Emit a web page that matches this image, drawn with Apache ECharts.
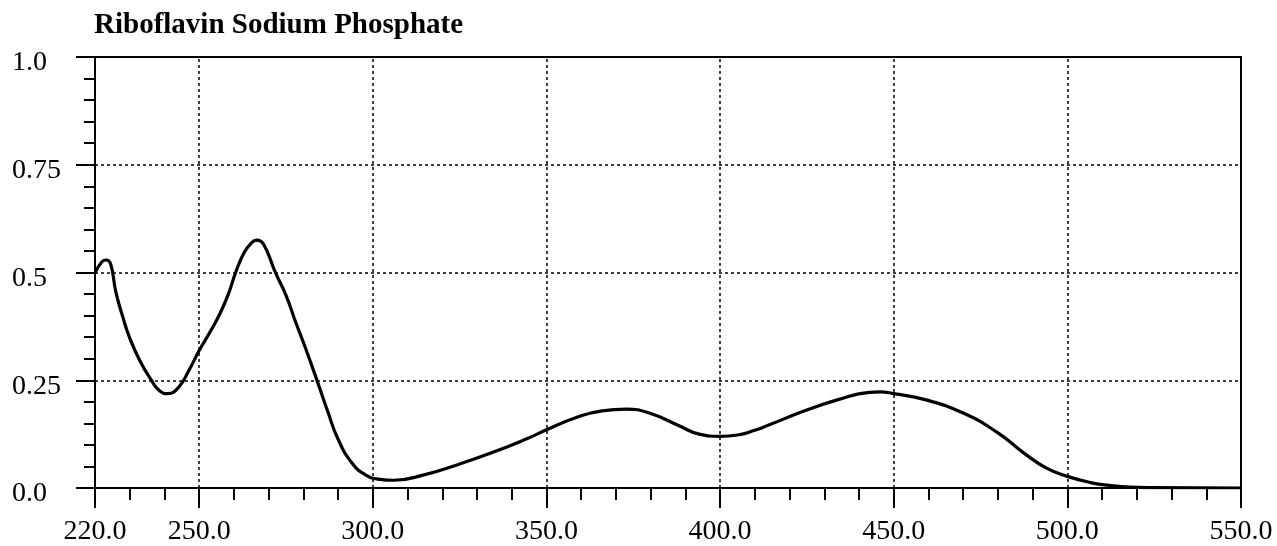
<!DOCTYPE html>
<html>
<head>
<meta charset="utf-8">
<script src="https://cdn.jsdelivr.net/npm/echarts@6/dist/echarts.min.js"></script>
<style>
html,body{margin:0;padding:0;background:#fff;}
#c{width:1277px;height:546px;}
</style>
</head>
<body>
<div id="c"></div>
<script>
var titleText = 'Riboflavin Sodium Phosphate';
var wavelength = [220,222,223.2,224.5,226,228,230,233,236,238.5,241,244,247,250,253,256,258.5,260.5,263,265,266.5,268.5,272,275,277.5,280.5,284,287,290,294,298,302,306,315,324,334,344,350,358,366,373,380,388,394,400,405,410,414,424,434,443,446,450,459,470,480,487.5,494,500,507,512,518,525,550];
var absorbance = [0.499,0.525,0.529,0.52,0.455,0.397,0.348,0.294,0.253,0.226,0.219,0.233,0.272,0.319,0.36,0.405,0.452,0.5,0.547,0.568,0.575,0.566,0.499,0.447,0.391,0.327,0.248,0.178,0.113,0.058,0.03,0.02,0.018,0.031,0.053,0.081,0.113,0.135,0.162,0.179,0.183,0.173,0.145,0.125,0.12,0.123,0.134,0.146,0.178,0.205,0.222,0.223,0.219,0.205,0.174,0.128,0.081,0.046,0.027,0.012,0.006,0.002,0.001,0.0];
var xMajorTicks = [220,250,300,350,400,450,500,550];
var xGridLines = [250,300,350,400,450,500];
var yTickValues = [0,0.25,0.5,0.75,1];
var yTickLabels = ['0.0','0.25','0.5','0.75','1.0'];

var chart = echarts.init(document.getElementById('c'), null, {renderer:'canvas'});
var pts = wavelength.map(function(w,i){return [w, absorbance[i]];});
var font = '"Liberation Serif", "Times New Roman", serif';
chart.setOption({
  animation: false,
  backgroundColor: '#fff',
  title: {
    text: titleText, left: 89, top: 6,
    textStyle: {fontFamily: font, fontWeight: 'bold', fontSize: 29, color: '#000'}
  },
  grid: {left: 95, right: 36, top: 57, bottom: 54, show: true, borderColor: '#000', borderWidth: 2, backgroundColor: 'transparent'},
  xAxis: [{
    type: 'value', min: 220, max: 550, interval: 10,
    axisLine: {show: true, onZero: false, lineStyle: {color: '#000', width: 2}},
    axisTick: {show: true, length: 12, lineStyle: {color: '#000', width: 2}},
    axisLabel: {show: false},
    splitLine: {show: false}
  },{
    type: 'value', min: 220, max: 550, position: 'bottom', interval: 10,
    axisLine: {show: false},
    axisTick: {show: true, length: 20, customValues: xMajorTicks, lineStyle: {color: '#000', width: 2}},
    axisLabel: {show: true, customValues: xMajorTicks, margin: 30, fontFamily: font, fontSize: 28, color: '#000',
      formatter: function(v){return v.toFixed(1);}},
    splitLine: {show: false}
  }],
  yAxis: {
    type: 'value', min: 0, max: 1, interval: 0.25,
    axisLine: {show: true, onZero: false, lineStyle: {color: '#000', width: 2}},
    axisTick: {show: true, length: 19, lineStyle: {color: '#000', width: 2}},
    minorTick: {show: true, splitNumber: 5, length: 11, lineStyle: {color: '#000', width: 2}},
    axisLabel: {show: true, align: 'left', margin: 83, color: '#000',
      formatter: function(v){ var i = yTickValues.indexOf(v); return i >= 0 ? '{v|' + yTickLabels[i] + '}' : ''; },
      rich: {v: {fontFamily: font, fontSize: 28, color: '#000', padding: [12,0,0,0]}}},
    splitLine: {show: true, lineStyle: {color: '#000', width: 1.5, type: [3,3]}}
  },
  series: [{
    type: 'line', data: pts, smooth: 0.5, showSymbol: false, symbol: 'none',
    lineStyle: {color: '#000', width: 3.2},
    xAxisIndex: 0, yAxisIndex: 0,
    markLine: {
      silent: true, symbol: 'none', label: {show: false},
      lineStyle: {color: '#000', width: 1.5, type: [3,3]},
      data: xGridLines.map(function(v){return {xAxis: v};})
    },
    z: 5
  }]
});
</script>
</body>
</html>
